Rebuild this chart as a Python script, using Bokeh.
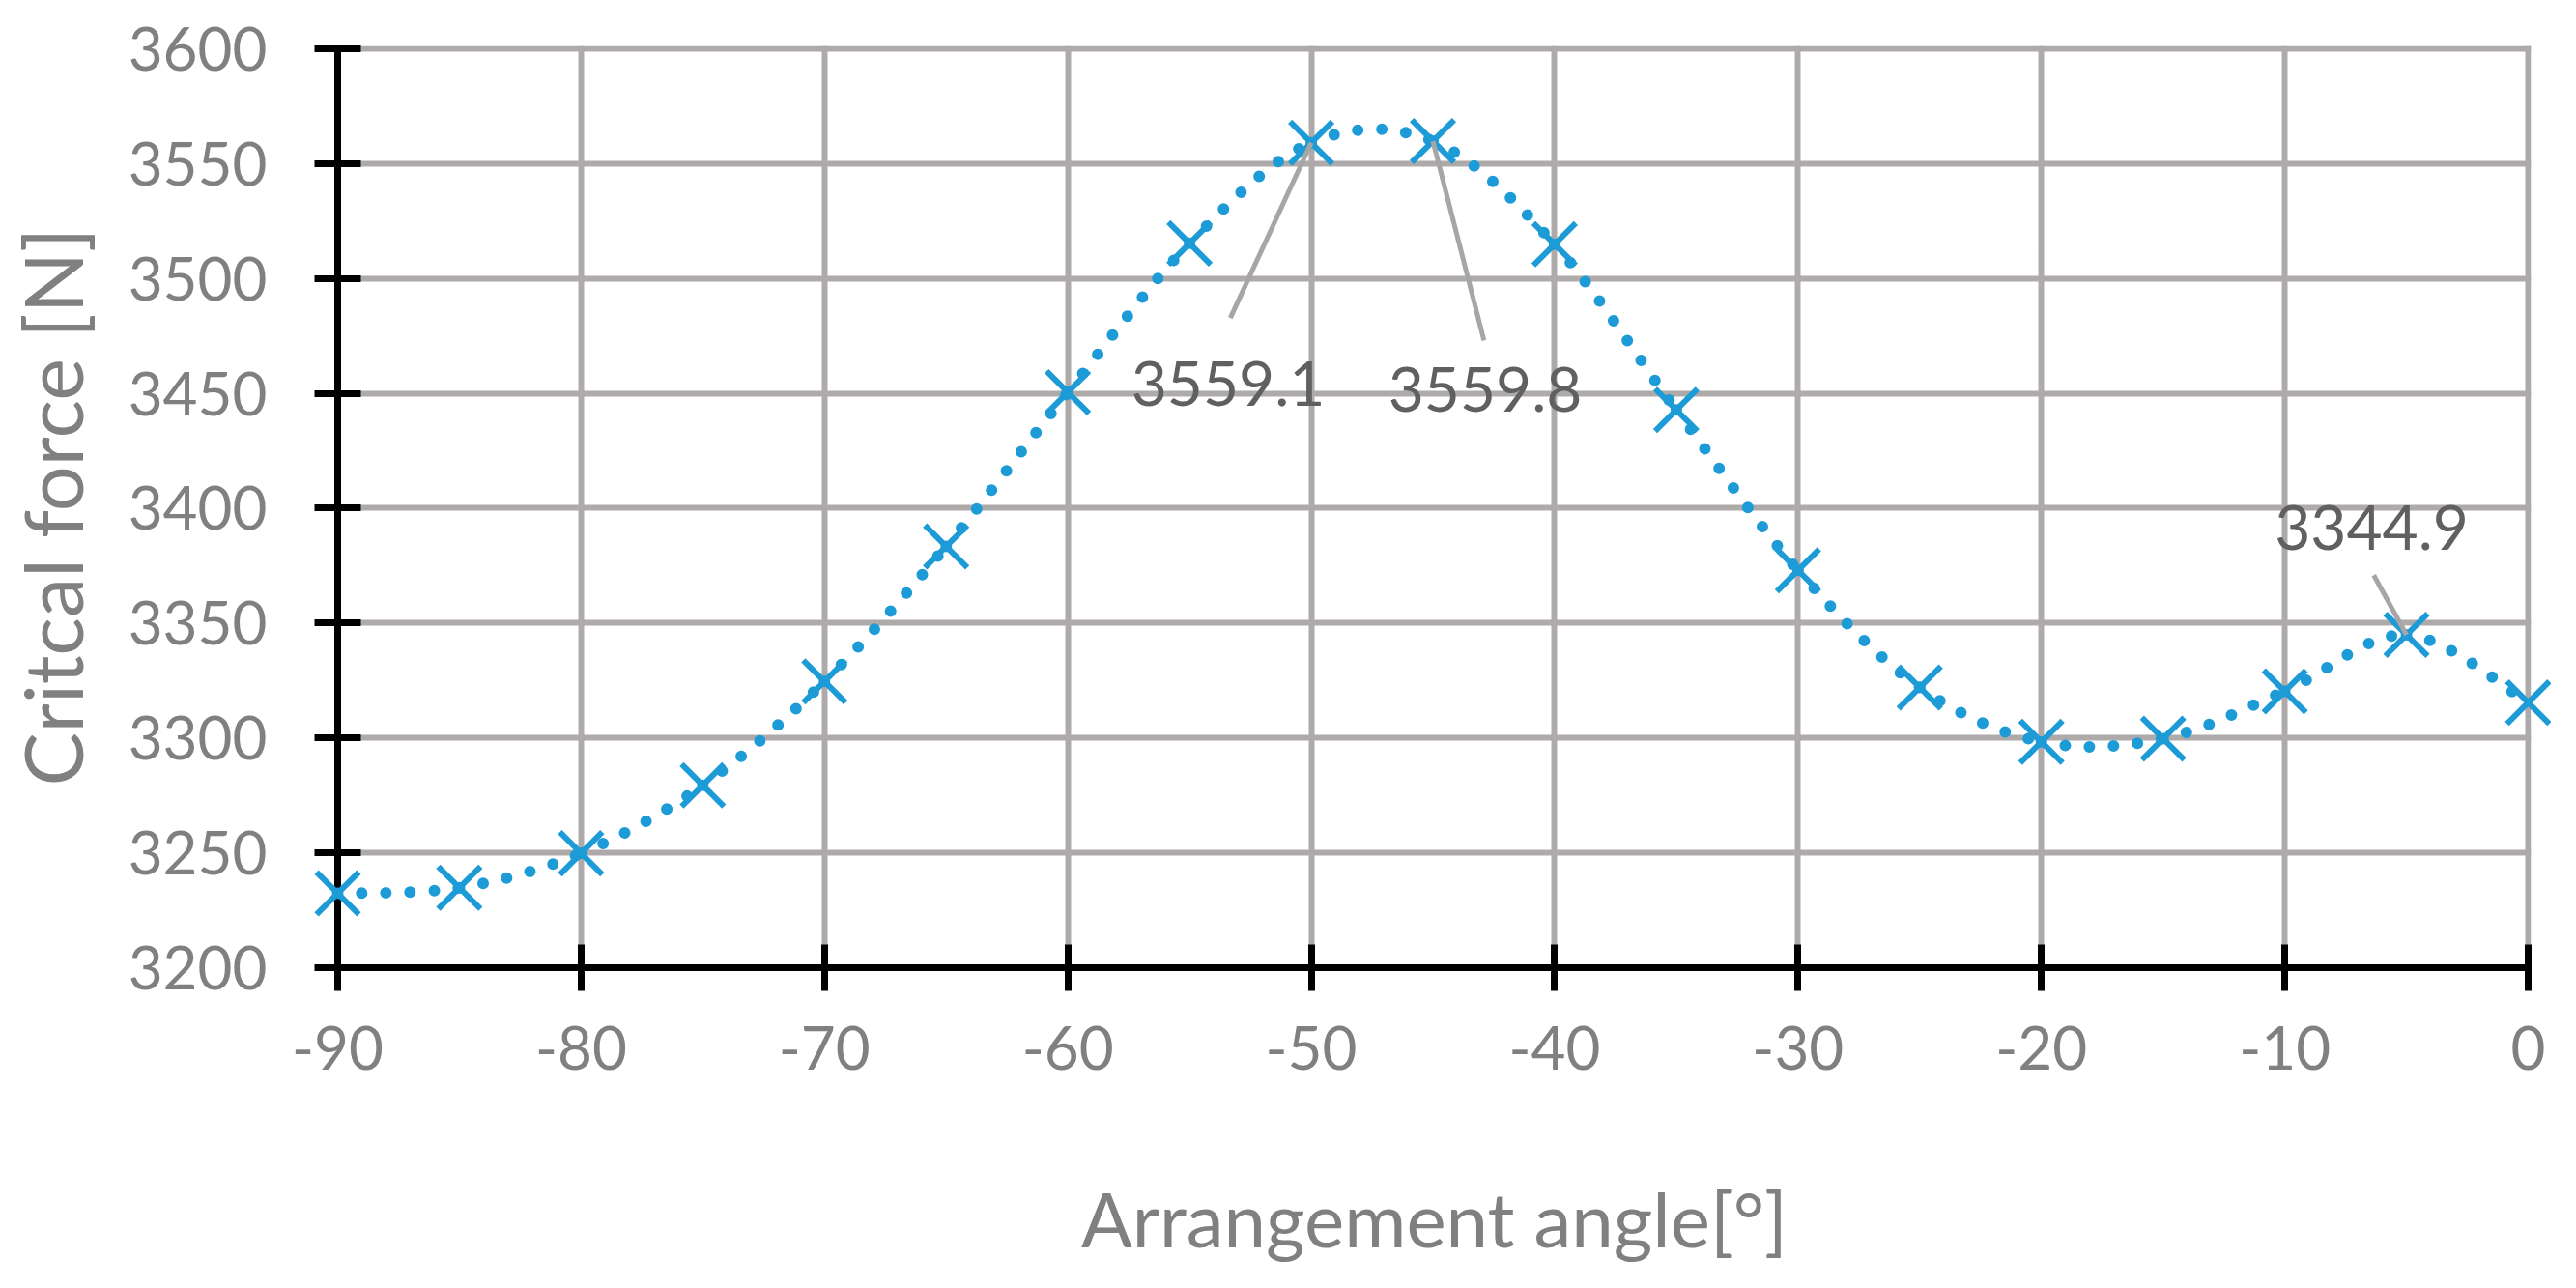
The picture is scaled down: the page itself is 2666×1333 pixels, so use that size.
import numpy as np
from bokeh.plotting import figure
from bokeh.models import FixedTicker, Range1d
from bokeh.core.properties import value
from bokeh.embed import file_html
from bokeh.resources import INLINE

# ---- data ----
angles = [-90, -85, -80, -75, -70, -65, -60, -55, -50, -45, -40, -35, -30, -25, -20, -15, -10, -5, 0]
force = [3232.4, 3234.8, 3249.8, 3279.4, 3324.6, 3383.4, 3450.5, 3515.3, 3559.1, 3559.8,
         3514.9, 3442.8, 3373.0, 3322.0, 3298.3, 3299.7, 3320.3, 3344.9, 3315.4]

x_ticks = [-90, -80, -70, -60, -50, -40, -30, -20, -10, 0]
x_tick_labels = ["-90", "-80", "-70", "-60", "-50", "-40", "-30", "-20", "-10", "0"]
y_ticks = [3200, 3250, 3300, 3350, 3400, 3450, 3500, 3550, 3600]
y_tick_labels = ["3200", "3250", "3300", "3350", "3400", "3450", "3500", "3550", "3600"]

ann_x = [-50, -45, -5]
ann_y = [3559.1, 3559.8, 3344.9]
ann_text = ["3559.1", "3559.8", "3344.9"]

x_title = "Arrangement angle[°]"
y_title = "Critcal force [N]"

# ---- layout (pixels) ----
label_dx = [-86, 54, -36]
label_dy = [249, 257, -111]
leader_dx = [-84, 53, -34]
leader_dy = [182, 207, -62]

W, H = 2640, 1310
BL, BR, BT, BB = 342, 21, 47, 306
FW, FH = W - BL - BR, H - BT - BB          # 2277 x 957
X0, X1 = -90, 0 + 3 * 90 / 2274
Y0, Y1 = 3200, 3600 + 3 * 400 / 954
pxx = FW / (X1 - X0)
pxy = FH / (Y1 - Y0)

BLUE = "#1C9BD7"
GRAY_TXT = "#808080"
FONT = "Lato"

p = figure(width=W, height=H,
           x_range=Range1d(X0, X1), y_range=Range1d(Y0, Y1),
           min_border_left=BL, min_border_right=BR, min_border_top=BT, min_border_bottom=BB,
           output_backend="svg", toolbar_location=None)
p.outline_line_color = None
p.background_fill_color = "white"
p.border_fill_color = "white"

# axes
for ax, ticks, labels, bounds in ((p.xaxis[0], x_ticks, x_tick_labels, (-90, 0)),
                                  (p.yaxis[0], y_ticks, y_tick_labels, (3200, 3600))):
    ax.ticker = FixedTicker(ticks=ticks)
    ax.bounds = bounds
    ax.major_label_overrides = {t: l for t, l in zip(ticks, labels)}
    ax.axis_line_color = "black"
    ax.axis_line_width = 7
    ax.major_tick_line_color = "black"
    ax.major_tick_line_width = 7
    ax.major_tick_in = 24
    ax.major_tick_out = 24
    ax.minor_tick_line_color = None
    ax.major_label_text_font = FONT
    ax.major_label_text_font_size = "62px"
    ax.major_label_text_color = GRAY_TXT
    ax.axis_label_text_font = FONT
    ax.axis_label_text_font_style = "normal"
    ax.axis_label_text_color = GRAY_TXT

p.xaxis.axis_label = x_title
p.yaxis.axis_label = y_title
p.xaxis.axis_label_text_font_size = "78px"
p.yaxis.axis_label_text_font_size = "83px"
p.xaxis.major_label_standoff = 36
p.xaxis.axis_label_standoff = 104
p.yaxis.major_label_standoff = 49
p.yaxis.axis_label_standoff = 26

p.xgrid.ticker = FixedTicker(ticks=x_ticks)
p.ygrid.ticker = FixedTicker(ticks=y_ticks)
for g in (p.xgrid[0], p.ygrid[0]):
    g.grid_line_color = "#AEAAAA"
    g.grid_line_width = 6

# smoothed dotted curve (Bezier segments through the data points)
xs = np.array(angles, dtype=float)
ys = np.array(force, dtype=float)
n = len(xs)
xp = np.concatenate([[xs[0]], xs, [xs[-1]]])
yp = np.concatenate([[ys[0]], ys, [ys[-1]]])
i = np.arange(n - 1)
cx0 = xs[i] + (xp[i + 2] - xp[i]) / 6
cy0 = ys[i] + (yp[i + 2] - yp[i]) / 6
cx1 = xs[i + 1] - (xp[i + 3] - xp[i + 1]) / 6
cy1 = ys[i + 1] - (yp[i + 3] - yp[i + 1]) / 6
p.bezier(x0=xs[:-1], y0=ys[:-1], x1=xs[1:], y1=ys[1:],
         cx0=cx0, cy0=cy0, cx1=cx1, cy1=cy1,
         line_color=BLUE, line_width=12, line_dash="0 25", line_cap="round",
         level="overlay")

# markers
p.scatter(angles, force, marker="x", size=62, line_color=BLUE, line_width=6, level="overlay")

# leader lines
ax_ = np.array(ann_x, dtype=float)
ay_ = np.array(ann_y, dtype=float)
p.segment(x0=ax_, y0=ay_,
          x1=ax_ + np.array(leader_dx) / pxx, y1=ay_ - np.array(leader_dy) / pxy,
          line_color="#A6A6A6", line_width=5, level="overlay")

# data labels
p.text(x=ann_x, y=ann_y, text=ann_text, x_offset=label_dx, y_offset=label_dy,
       text_font=value(FONT), text_font_size="64px", text_color="#606060",
       text_align="center", text_baseline="middle", level="overlay")

open("out.html", "w").write(file_html(p, INLINE))
